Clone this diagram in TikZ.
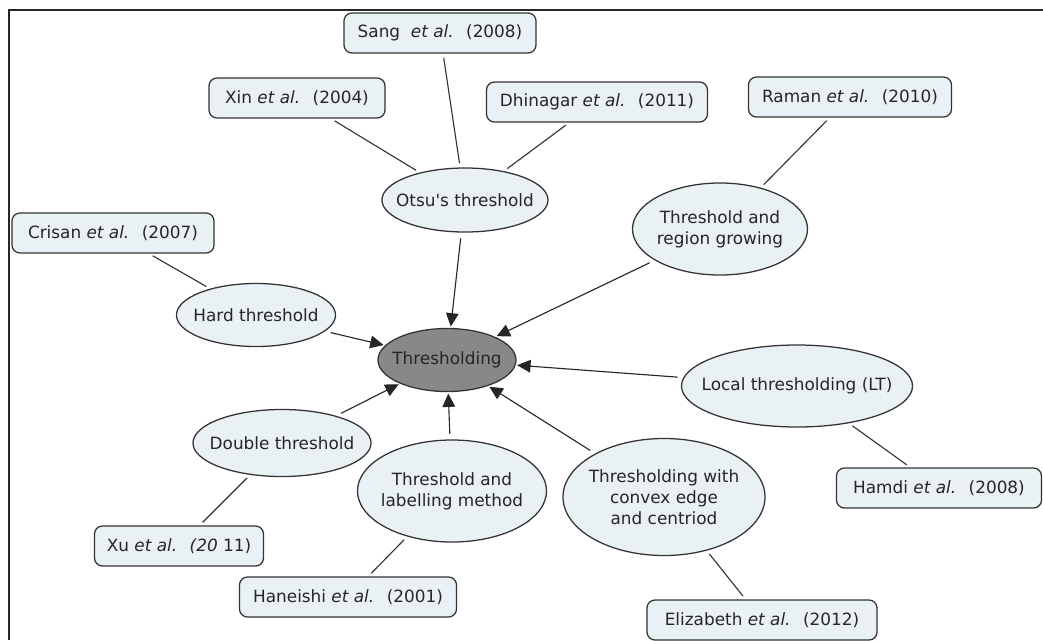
\documentclass[tikz,border=0pt]{standalone}
\usepackage{fontspec}
\setmainfont{DejaVu Sans}[Ligatures=TeXOff]
\usetikzlibrary{shapes.geometric,arrows.meta}
\definecolor{relleno}{HTML}{E9F1F5}
\definecolor{oscuro}{HTML}{888888}
\definecolor{borde}{HTML}{333333}

\begin{document}
\begin{tikzpicture}[x=0.025cm,y=-0.025cm,
  metodo/.style={ellipse,draw=borde,fill=relleno,line width=0.9pt,inner xsep=-0.6cm,inner ysep=-0.15cm,
    align=center,text=black!85,font=\fontsize{12}{15}\selectfont},
  cita/.style={rectangle,rounded corners=0.2cm,draw=borde,fill=relleno,line width=0.9pt,
    minimum height=1cm,inner xsep=0pt,text=black!85,font=\fontsize{12}{15}\selectfont},
  enlace/.style={draw=borde,line width=0.8pt,shorten <=3pt,shorten >=3pt},
  flecha/.style={draw=black!85,line width=0.8pt,shorten <=4pt,shorten >=1pt,
    -{Triangle[length=9.5pt,width=9pt]}}]
  \useasboundingbox (0,0) rectangle (1043,640);

  % Marco
  \draw[line width=1.6pt,black!85] (9,640) -- (9,10) -- (1043,10);

  % Nodo central
  \node[metodo,fill=oscuro,minimum width=3.45cm,minimum height=1.575cm] (centro) at (447,360) {Thresholding};

  % Metodos
  \node[metodo,minimum width=4.15cm,minimum height=1.6cm] (otsu) at (465,200) {Otsu's threshold};
  \node[metodo,minimum width=4.375cm,minimum height=2.3cm] (region) at (720,229) {Threshold and\\region growing};
  \node[metodo,minimum width=3.975cm,minimum height=1.575cm] (hard) at (256,315) {Hard threshold};
  \node[metodo,minimum width=5.775cm,minimum height=2.05cm] (local) at (797,386) {Local thresholding (LT)};
  \node[metodo,minimum width=4.45cm,minimum height=1.675cm] (double) at (282,443) {Double threshold};
  \node[metodo,minimum width=4.725cm,minimum height=2.55cm] (label) at (452,491) {Threshold and\\labelling method};
  \node[metodo,minimum width=5.05cm,minimum height=2.925cm] (convex) at (664,497) {Thresholding with\\convex edge\\and centriod};

  % Referencias
  \node[cita,minimum width=4.8cm] (sang) at (440,33) {Sang~ \textit{et al.}~ (2008)};
  \node[cita,minimum width=4.4cm] (xin) at (297,98) {Xin \textit{et al.}~ (2004)};
  \node[cita,minimum width=5.525cm] (dhinagar) at (597,102) {Dhinagar \textit{et al.}~ (2011)};
  \node[cita,minimum width=5.075cm] (raman) at (850,97) {Raman \textit{et al.}~ (2010)};
  \node[cita,minimum width=5.05cm] (crisan) at (113,233) {Crisan \textit{et al.}~ (2007)};
  \node[cita,minimum width=5.125cm] (hamdi) at (939,488) {Hamdi \textit{et al.}~ (2008)};
  \node[cita,minimum width=4.225cm] (xu) at (179,546) {Xu \textit{et al.}~ \textit{(20} 11)};
  \node[cita,minimum width=5.425cm] (haneishi) at (348,597) {Haneishi \textit{et al.}~ (2001)};
  \node[cita,minimum width=5.75cm] (elizabeth) at (762,620) {Elizabeth \textit{et al.}~ (2012)};

  % Enlaces
  \draw[enlace] (sang) -- (otsu);
  \draw[enlace] (xin) -- (otsu);
  \draw[enlace] (dhinagar) -- (otsu);
  \draw[enlace] (raman) -- (region);
  \draw[enlace] (crisan) -- (hard);
  \draw[enlace] (local) -- (hamdi);
  \draw[enlace] (double) -- (xu);
  \draw[enlace] (label) -- (haneishi);
  \draw[enlace] (convex) -- (elizabeth);

  % Flechas
  \draw[flecha] (otsu) -- (centro);
  \draw[flecha] (region) -- (centro);
  \draw[flecha] (hard) -- (centro);
  \draw[flecha] (local) -- (centro);
  \draw[flecha] (double) -- (centro);
  \draw[flecha] (label) -- (centro);
  \draw[flecha] (convex) -- (centro);
\end{tikzpicture}
\end{document}
